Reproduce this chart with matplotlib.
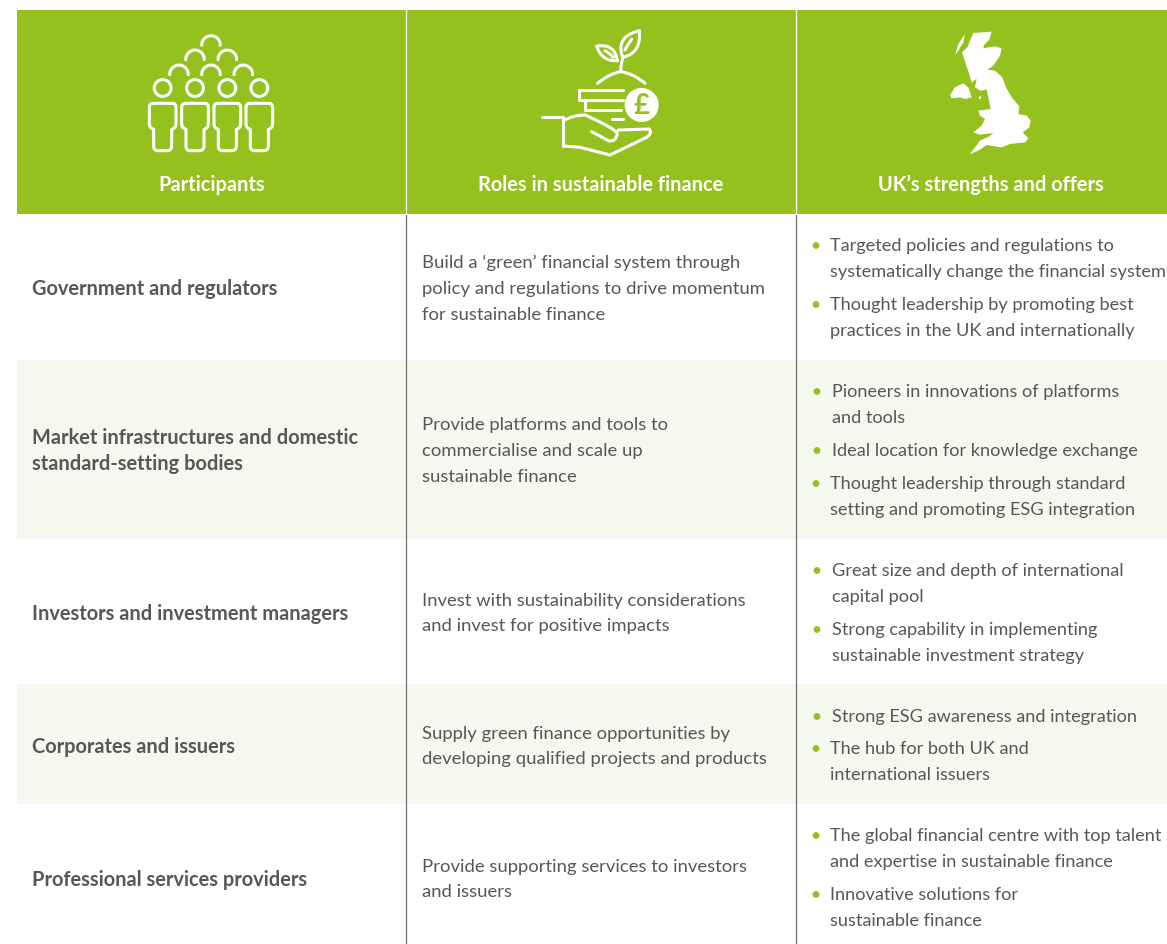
import matplotlib
matplotlib.use("Agg")
import matplotlib.pyplot as plt
from matplotlib.patches import Rectangle, Circle, Polygon, Arc, PathPatch
from matplotlib.path import Path

W, H = 1167, 945
GREEN = "#95c11f"
PALE = "#f5f8ef"
TEXT = "#575756"
LINE = "#6f6f6e"

headers = ["Participants", "Roles in sustainable finance", "UK\u2019s strengths and offers"]
participants = ["Government and regulators",
                "Market infrastructures and domestic\nstandard-setting bodies",
                "Investors and investment managers",
                "Corporates and issuers",
                "Professional services providers"]
roles = ["Build a \u2018green\u2019 financial system through\npolicy and regulations to drive momentum\nfor sustainable finance",
         "Provide platforms and tools to\ncommercialise and scale up\nsustainable finance",
         "Invest with sustainability considerations\nand invest for positive impacts",
         "Supply green finance opportunities by\ndeveloping qualified projects and products",
         "Provide supporting services to investors\nand issuers"]
strengths = [
    ["Targeted policies and regulations to\nsystematically change the financial system",
     "Thought leadership by promoting best\npractices in the UK and internationally"],
    ["Pioneers in innovations of platforms\nand tools",
     "Ideal location for knowledge exchange",
     "Thought leadership through standard\nsetting and promoting ESG integration"],
    ["Great size and depth of international\ncapital pool",
     "Strong capability in implementing\nsustainable investment strategy"],
    ["Strong ESG awareness and integration",
     "The hub for both UK and\ninternational issuers"],
    ["The global financial centre with top talent\nand expertise in sustainable finance",
     "Innovative solutions for\nsustainable finance"],
]
row_edges = [215, 361, 540, 685, 805, 946]
row_centers = [289, 451, 614, 747, 879.5]
role_centers = [289, 451, 613.5, 746.5, 879.5]
bullet_y = [[259, 318], [405, 451, 497], [584, 643], [717, 762], [849, 908]]
bullet_x = [[816, 816], [817, 817, 816], [817, 817], [817, 816], [816, 816]]

FS_HEAD = 14.4
FS_BOLD = 14.4
FS_ROLE = 13.3
FS_STR = 13.1
LS_BOLD = 1.35
LS_ROLE = 1.76
LS_STR = 1.717
plt.rcParams["font.family"] = ["Lato", "DejaVu Sans"]

fig = plt.figure(figsize=(W / 100, H / 100), dpi=100)
ax = fig.add_axes([0, 0, 1, 1])
ax.set_xlim(0, W)
ax.set_ylim(H, 0)
ax.axis("off")

ax.add_patch(Rectangle((17, 11), W - 17, 204, fc=GREEN, ec="none", zorder=1))
for i, (a, b) in enumerate(zip(row_edges[:-1], row_edges[1:])):
    if i % 2 == 1:
        ax.add_patch(Rectangle((17, a), W - 17, b - a, fc=PALE, ec="none", zorder=1))
for x in (405.6, 795.6):
    ax.plot([x, x], [215, H], color=LINE, lw=0.9, zorder=2)
    ax.plot([x, x], [11, 215], color="white", lw=0.9, zorder=2)

for cx, t in zip((212, 601, 990.5), headers):
    ax.text(cx, 185, t, color="white", fontsize=FS_HEAD, fontweight="bold", ha="center", va="center", zorder=4)

for i in range(5):
    ax.text(32, row_centers[i], participants[i], color=TEXT, fontsize=FS_BOLD, fontweight="bold",
            ha="left", va="center", linespacing=LS_BOLD, zorder=4)
    ax.text(421.5, role_centers[i], roles[i], color=TEXT, fontsize=FS_ROLE, ha="left", va="center",
            linespacing=LS_ROLE, zorder=4)
    for j, s in enumerate(strengths[i]):
        y = bullet_y[i][j]
        ax.text(bullet_x[i][j] + 14.5, y, s, color=TEXT, fontsize=FS_STR, ha="left", va="center",
                linespacing=LS_STR, zorder=4, clip_on=False)
        first = y - s.count("\n") * 13 + 0.5
        ax.add_patch(Circle((bullet_x[i][j], first), 3.4, fc=GREEN, ec="none", zorder=4))

LW = 2.2


def zx(v, off):
    return off + v / 3


def curve(points, off_x, off_y):
    """points: first is a move, each next is either (x, y) line or (cx, cy, x, y) quad, in zoom units."""
    verts, codes = [], []
    for k, p in enumerate(points):
        if k == 0:
            verts.append((zx(p[0], off_x), zx(p[1], off_y))); codes.append(Path.MOVETO)
        elif len(p) == 2:
            verts.append((zx(p[0], off_x), zx(p[1], off_y))); codes.append(Path.LINETO)
        else:
            verts += [(zx(p[0], off_x), zx(p[1], off_y)), (zx(p[2], off_x), zx(p[3], off_y))]
            codes += [Path.CURVE3, Path.CURVE3]
    ax.add_patch(PathPatch(Path(verts, codes), fc="none", ec="white", lw=LW,
                           capstyle="round", joinstyle="round", zorder=5))


# ---- people ----
for z in (98, 195, 292, 388):
    cx = 130 + z / 3
    ax.add_patch(Circle((cx, 89), 8.4, fc="none", ec="white", lw=LW, zorder=5))
    curve([(z - 28, 250), (z + 28, 250), (z + 40, 250, z + 40, 262), (z + 40, 310),
           (z + 40, 325, z + 27, 328), (z + 27, 378), (z + 27, 392, z + 14, 392), (z - 14, 392),
           (z - 27, 392, z - 27, 378), (z - 27, 328), (z - 40, 325, z - 40, 310), (z - 40, 262),
           (z - 40, 250, z - 28, 250)], 130, 21)
for zxv, zyv in ((243, 75), (195, 118), (292, 118), (147, 163), (243, 163), (340, 163)):
    ax.add_patch(Arc((130 + zxv / 3, 21 + zyv / 3), 18.5, 18.5, theta1=178, theta2=362,
                     ec="white", lw=LW, capstyle="round", zorder=5))

# ---- hand, coins, plant ----
ox, oy = 530, 21
curve([(35, 292), (100, 292), (100, 378)], ox, oy)
curve([(100, 302), (130, 285, 165, 285), (255, 325, 262, 340), (258, 368, 235, 362), (185, 335)], ox, oy)
curve([(100, 378), (150, 382), (240, 405), (350, 352), (368, 340, 358, 327), (265, 330)], ox, oy)
curve([(278, 210), (148, 210), (148, 240), (278, 240)], ox, oy)
curve([(165, 240), (165, 270), (272, 270)], ox, oy)
curve([(245, 298), (280, 298)], ox, oy)
ax.add_patch(Circle((zx(335, ox), zx(255, oy)), 17, fc="white", ec="none", zorder=6))
ax.text(zx(335, ox), zx(255, oy) + 0.5, "\u00a3", color=GREEN, fontsize=20, fontweight="bold",
        ha="center", va="center", zorder=7)
curve([(202, 190), (240, 160, 272, 155), (310, 160, 345, 190)], ox, oy)
curve([(272, 155), (272, 135, 278, 115)], ox, oy)
curve([(262, 122), (215, 125, 200, 78), (255, 70, 262, 122)], ox, oy)
curve([(225, 92), (240, 100, 250, 112)], ox, oy)
curve([(278, 112), (255, 50, 328, 32), (335, 100, 278, 112)], ox, oy)
curve([(285, 90), (295, 70, 305, 58)], ox, oy)

# ---- UK map ----
gb = [(130, 42), (185, 38), (178, 62), (162, 78), (160, 88), (195, 82), (215, 88), (210, 110), (190, 140),
      (172, 152), (195, 155), (217, 175), (228, 205), (245, 235), (268, 262), (265, 285), (290, 290),
      (302, 305), (298, 325), (278, 340), (295, 358), (285, 370), (240, 375), (215, 385), (170, 378),
      (145, 395), (120, 405), (135, 385), (150, 365), (178, 352), (190, 342), (150, 347), (130, 340),
      (155, 320), (165, 300), (150, 290), (145, 275), (182, 270), (176, 240), (170, 212), (150, 215),
      (135, 205), (140, 180), (125, 190), (116, 160), (106, 130), (96, 100), (112, 85), (122, 60)]
ire = [(60, 228), (75, 205), (100, 193), (115, 205), (125, 235), (105, 240), (90, 235), (65, 238)]
heb = [(75, 110), (85, 75), (105, 45), (100, 70), (85, 95)]
man = [(145, 235), (155, 230), (150, 242)]
for shape in (gb, ire, heb, man):
    ax.add_patch(Polygon([(zx(a, 930), zx(b, 20)) for a, b in shape], closed=True, fc="white", ec="none", zorder=5))

fig.savefig("out.png", dpi=100, facecolor="white")
